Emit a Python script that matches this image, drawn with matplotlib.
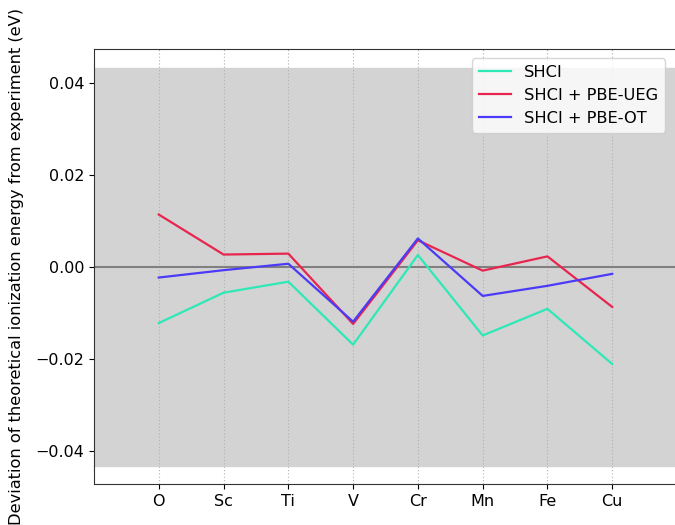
import matplotlib
matplotlib.use("Agg")
import matplotlib.pyplot as plt

elements = ["O", "Sc", "Ti", "V", "Cr", "Mn", "Fe", "Cu"]
shci = [-0.0122, -0.0056, -0.0032, -0.0169, 0.0026, -0.0149, -0.0091, -0.0211]
shci_ueg = [0.0114, 0.0027, 0.0029, -0.0124, 0.0058, -0.0008, 0.0023, -0.0087]
shci_ot = [-0.0023, -0.0007, 0.0007, -0.0119, 0.0062, -0.0063, -0.0041, -0.0015]
band = 0.0432

fig = plt.figure(figsize=(6.75, 5.25), dpi=100)
ax = fig.add_axes([94/675, 41/525, (677-94)/675, (484-49)/525])
x = list(range(len(elements)))

ax.axhspan(-band, band, color="#d3d3d3", zorder=0)
for xi in x:
    ax.axvline(xi, color="#b0b0b0", linestyle=(0, (1, 2)), linewidth=0.8, zorder=1)
ax.axhline(0, color="#808080", linewidth=1.5, zorder=2)

ax.plot(x, shci, color="#2ee8b6", linewidth=1.6, label="SHCI", zorder=3)
ax.plot(x, shci_ueg, color="#e8254e", linewidth=1.6, label="SHCI + PBE-UEG", zorder=3)
ax.plot(x, shci_ot, color="#4b3af7", linewidth=1.6, label="SHCI + PBE-OT", zorder=3)

ax.set_xlim(-1, 8)
ax.set_ylim(-0.0472, 0.0474)
ax.set_xticks(x)
ax.set_xticklabels(elements)
ax.set_yticks([-0.04, -0.02, 0.0, 0.02, 0.04])
ax.set_yticklabels(["\u22120.04", "\u22120.02", "0.00", "0.02", "0.04"])
ax.tick_params(labelsize=11.5)
ax.set_ylabel("Deviation of theoretical ionization energy from experiment (eV)",
              fontsize=11.7, labelpad=8)
for s in ax.spines.values():
    s.set_color("#333333")
ax.legend(loc="upper right", fontsize=11.7, bbox_to_anchor=(0.993, 0.997))

fig.savefig("out.png", dpi=100)
